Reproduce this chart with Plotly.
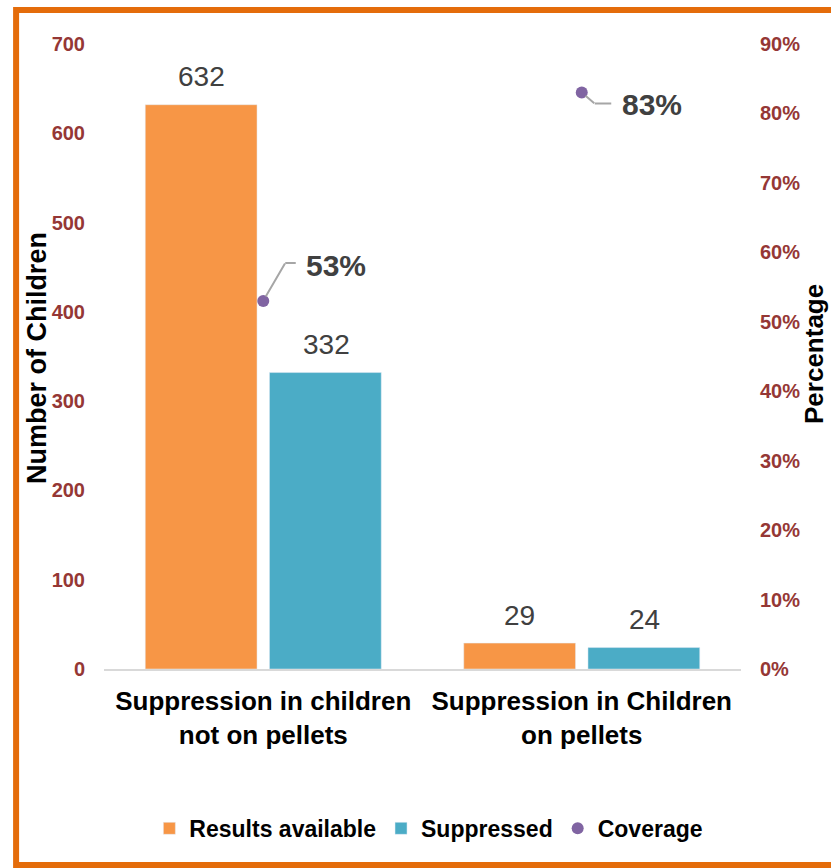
import plotly.graph_objects as go

categories = ["Suppression in children<br>not on pellets", "Suppression in Children<br>on pellets"]
results_available = [632, 29]
suppressed = [332, 24]
coverage = [0.53, 0.83]
coverage_labels = ["53%", "83%"]
left_ticks = [0, 100, 200, 300, 400, 500, 600, 700]
right_ticks = [0, 0.1, 0.2, 0.3, 0.4, 0.5, 0.6, 0.7, 0.8, 0.9]

FONT = "Liberation Sans, Arial, sans-serif"
TICKRED = "#953735"
LABELGRAY = "#404040"
LEADER = "#A6A6A6"

fig = go.Figure()
fig.add_trace(go.Bar(
    x=categories, y=results_available, name="Results available",
    marker=dict(color="#F79646"),
))
fig.add_trace(go.Bar(
    x=categories, y=suppressed, name="Suppressed",
    marker=dict(color="#4BACC6"),
))

# value labels above bars (bars in a group are offset by half a slot)
for series, shift in ((results_available, -62), (suppressed, 63)):
    for c, v in zip(categories, series):
        fig.add_annotation(
            x=c, y=v, text=str(v), showarrow=False,
            xshift=shift, yshift=28, yanchor="middle",
            font=dict(size=28, color=LABELGRAY, family=FONT),
        )

# coverage data labels with elbow leader lines (pixel offsets from the point)
# (elbow dx, elbow dy, horizontal length, label dx, label dy)
leader_styles = [(22, 38, 11, 73, 35), (13, -11, 17, 70, -12)]
for c, v, lab, (ex, ey, hl, lx, ly) in zip(categories, coverage, coverage_labels, leader_styles):
    fig.add_annotation(
        x=c, y=v, yref="y2", text="", showarrow=True, arrowhead=0,
        arrowwidth=2, arrowcolor=LEADER, ax=ex, ay=-ey, standoff=5,
        font=dict(size=1), borderpad=0,
    )
    fig.add_annotation(
        x=c, y=v, yref="y2", text="", showarrow=True, arrowhead=0,
        arrowwidth=2, arrowcolor=LEADER, ax=hl, ay=0, xshift=ex, yshift=ey,
        font=dict(size=1), borderpad=0,
    )
    fig.add_annotation(
        x=c, y=v, yref="y2", text="<b>" + lab + "</b>", showarrow=False,
        xshift=lx, yshift=ly,
        font=dict(size=30, color=LABELGRAY, family=FONT),
    )

fig.add_trace(go.Scatter(
    x=categories, y=coverage, name="Coverage", yaxis="y2", mode="markers",
    marker=dict(color="#8064A2", size=12), cliponaxis=False,
))

# Axis titles
fig.add_annotation(x=-0.105, y=0.4976, xref="paper", yref="paper", text="Number of Children",
                   textangle=-90, showarrow=False, xanchor="center", yanchor="middle",
                   font=dict(size=27, color="black", family=FONT, weight="bold"))
fig.add_annotation(x=1.1146, y=0.504, xref="paper", yref="paper", text="Percentage",
                   textangle=-90, showarrow=False, xanchor="center", yanchor="middle",
                   font=dict(size=26, color="black", family=FONT, weight="bold"))

# Frame
fig.add_shape(type="rect", xref="paper", yref="paper",
              x0=-0.138, x1=1.146, y0=-0.3136, y1=1.0544,
              line=dict(color="#E46C0A", width=6), layer="below")

fig.update_layout(
    width=831, height=868,
    margin=dict(l=104, r=90, t=44, b=199, autoexpand=False),
    paper_bgcolor="white", plot_bgcolor="white",
    font=dict(family=FONT, color="black"),
    barmode="group", bargap=0.22, bargroupgap=0.1,
    showlegend=True,
    legend=dict(orientation="h", x=0.51, xanchor="center", y=-0.255, yanchor="middle",
                font=dict(size=23, color="black", family=FONT, weight="bold"),
                itemwidth=30, traceorder="normal"),
    xaxis=dict(
        showline=True, linecolor="#D9D9D9", linewidth=2, automargin=False,
        tickfont=dict(size=26, color="black", family=FONT, weight="bold"),
        ticks="", showgrid=False, ticklabelstandoff=8,
    ),
    yaxis=dict(
        range=[0, 700], tickvals=left_ticks, automargin=False,
        tickfont=dict(size=20, color=TICKRED, family=FONT, weight="bold"),
        showgrid=False, zeroline=False, showline=False,
        ticklabelstandoff=18,
    ),
    yaxis2=dict(
        overlaying="y", side="right", range=[0, 0.9], tickvals=right_ticks,
        tickformat=".0%", automargin=False,
        tickfont=dict(size=20, color=TICKRED, family=FONT, weight="bold"),
        showgrid=False, zeroline=False, showline=False,
        ticklabelstandoff=18,
    ),
)

fig.write_html("out.html")
